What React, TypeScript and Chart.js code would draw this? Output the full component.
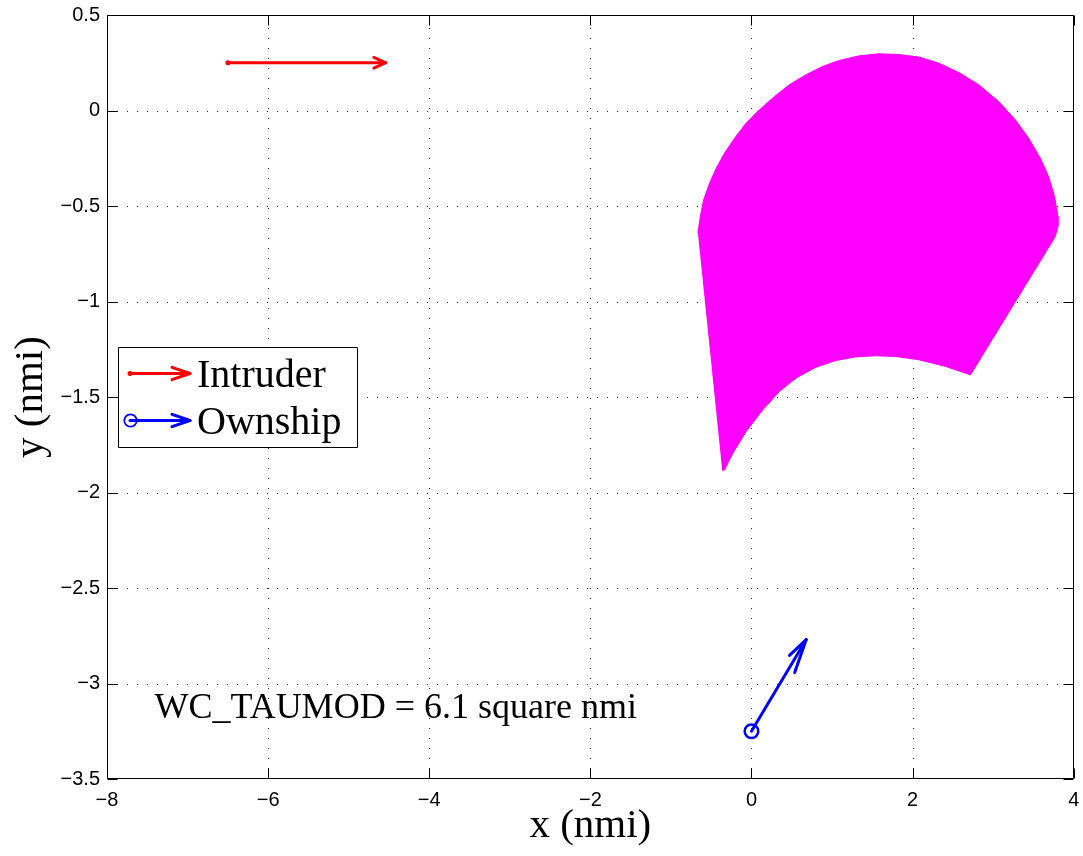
import React, { useEffect, useRef } from "react";
import { Chart, registerables } from "chart.js";

Chart.register(...registerables);

// ---- Axis ticks ----
const xTicks = [-8, -6, -4, -2, 0, 2, 4];
const yTicks = [-3.5, -3, -2.5, -2, -1.5, -1, -0.5, 0, 0.5];

// ---- Well-clear region boundary (WC_TAUMOD), traced around the polygon ----
const regionX = [
  -0.665, -0.635, -0.594, -0.52, -0.437, -0.334, -0.21, -0.066, 0.099, 0.285,
  0.47, 0.677, 0.883, 1.089, 1.337, 1.584, 1.832, 2.079, 2.327, 2.574,
  2.822, 3.069, 3.276, 3.441, 3.585, 3.688, 3.762, 3.804, 3.804, 3.771,
  2.719, 2.41, 2.079, 1.79, 1.543, 1.296, 1.048, 0.8, 0.553, 0.347,
  0.14, -0.066, -0.231, -0.334, -0.363,
];
const regionY = [
  -0.642, -0.555, -0.468, -0.38, -0.302, -0.223, -0.145, -0.066, 0.004, 0.073,
  0.135, 0.187, 0.231, 0.262, 0.286, 0.297, 0.293, 0.28, 0.248, 0.199,
  0.135, 0.047, -0.049, -0.145, -0.249, -0.346, -0.45, -0.555, -0.607, -0.66,
  -1.384, -1.34, -1.305, -1.288, -1.284, -1.29, -1.309, -1.344, -1.401, -1.471,
  -1.567, -1.681, -1.794, -1.881, -1.885,
];

// ---- Aircraft arrows (start, tip) ----
const intruderX = [-6.5, -4.54];
const intruderY = [0.25, 0.25];
const ownshipX = [0, 0.68];
const ownshipY = [-3.25, -2.77];

// ---- Texts ----
const legendLabels = ["Intruder", "Ownship"];
const annotationText = "WC_TAUMOD = 6.1 square nmi";
const annotationX = -7.41;
const annotationY = -3.181;
const xTitle = "x (nmi)";
const yTitle = "y (nmi)";

const RED = "#ff0000";
const BLUE = "#0000ff";
const MAGENTA = "#ff00ff";

const fmt = (v: number) => String(v).replace("-", "\u2212");

function drawHead(
  ctx: CanvasRenderingContext2D,
  x0: number,
  y0: number,
  x1: number,
  y1: number,
  heads: { len: number; ang: number }[]
) {
  const dx = x0 - x1;
  const dy = y0 - y1;
  const L = Math.hypot(dx, dy);
  const bx = dx / L;
  const by = dy / L;
  ctx.beginPath();
  for (const h of heads) {
    const t = (h.ang * Math.PI) / 180;
    const rx = bx * Math.cos(t) - by * Math.sin(t);
    const ry = bx * Math.sin(t) + by * Math.cos(t);
    ctx.moveTo(x1, y1);
    ctx.lineTo(x1 + rx * h.len, y1 + ry * h.len);
  }
  ctx.stroke();
}

const overlayPlugin = {
  id: "overlay",
  beforeDatasetsDraw(chart: any) {
    const { ctx, chartArea: a, scales } = chart;
    const xs = scales.x;
    const ys = scales.y;
    ctx.save();
    ctx.strokeStyle = "#222";
    ctx.lineWidth = 1;
    ctx.setLineDash([1, 9]);
    for (const v of xTicks) {
      const px = Math.round(xs.getPixelForValue(v)) + 0.5;
      if (px <= a.left + 1 || px >= a.right - 1) continue;
      ctx.beginPath();
      ctx.moveTo(px, a.bottom);
      ctx.lineTo(px, a.top);
      ctx.stroke();
    }
    for (const v of yTicks) {
      const py = Math.round(ys.getPixelForValue(v)) + 0.5;
      if (py <= a.top + 1 || py >= a.bottom - 1) continue;
      ctx.beginPath();
      ctx.moveTo(a.left, py);
      ctx.lineTo(a.right, py);
      ctx.stroke();
    }
    ctx.restore();
  },
  afterDatasetsDraw(chart: any) {
    const { ctx, chartArea: a, scales } = chart;
    const xs = scales.x;
    const ys = scales.y;
    ctx.save();
    ctx.lineCap = "round";
    ctx.lineJoin = "round";

    // arrowheads on plot arrows
    ctx.lineWidth = 3;
    ctx.strokeStyle = RED;
    drawHead(
      ctx,
      xs.getPixelForValue(intruderX[0]),
      ys.getPixelForValue(intruderY[0]),
      xs.getPixelForValue(intruderX[1]),
      ys.getPixelForValue(intruderY[1]),
      [
        { len: 13, ang: 24 },
        { len: 13, ang: -24 },
      ]
    );
    ctx.strokeStyle = BLUE;
    drawHead(
      ctx,
      xs.getPixelForValue(ownshipX[0]),
      ys.getPixelForValue(ownshipY[0]),
      xs.getPixelForValue(ownshipX[1]),
      ys.getPixelForValue(ownshipY[1]),
      [
        { len: 23, ang: 15.8 },
        { len: 35, ang: -11.6 },
      ]
    );

    // frame
    ctx.lineCap = "butt";
    ctx.setLineDash([]);
    ctx.strokeStyle = "#000";
    ctx.lineWidth = 1;
    const L = Math.round(a.left) + 0.5;
    const R = Math.round(a.right) - 0.5;
    const T = Math.round(a.top) + 0.5;
    const B = Math.round(a.bottom) - 0.5;
    ctx.strokeRect(L, T, R - L, B - T);
    // inward tick marks
    const tl = 10;
    ctx.beginPath();
    for (const v of xTicks) {
      const px = Math.round(xs.getPixelForValue(v)) + 0.5;
      ctx.moveTo(px, B);
      ctx.lineTo(px, B - tl);
      ctx.moveTo(px, T);
      ctx.lineTo(px, T + tl);
    }
    for (const v of yTicks) {
      const py = Math.round(ys.getPixelForValue(v)) + 0.5;
      ctx.moveTo(L, py);
      ctx.lineTo(L + tl, py);
      ctx.moveTo(R, py);
      ctx.lineTo(R - tl, py);
    }
    ctx.stroke();

    // annotation
    ctx.fillStyle = "#000";
    ctx.font = '36px "Liberation Serif"';
    ctx.textAlign = "left";
    ctx.textBaseline = "alphabetic";
    ctx.fillText(
      annotationText,
      xs.getPixelForValue(annotationX),
      ys.getPixelForValue(annotationY)
    );

    // legend
    const lx = 118.5;
    const ly = 347.5;
    const lw = 239;
    const lh = 100;
    ctx.fillStyle = "#fff";
    ctx.fillRect(lx, ly, lw, lh);
    ctx.strokeStyle = "#000";
    ctx.lineWidth = 1;
    ctx.strokeRect(lx, ly, lw, lh);

    const rows = [373.5, 420.5];
    const colors = [RED, BLUE];
    const ix0 = 130;
    const ix1 = 190;
    rows.forEach((ry, i) => {
      ctx.strokeStyle = colors[i];
      ctx.lineWidth = 3;
      ctx.lineCap = "round";
      ctx.beginPath();
      ctx.moveTo(ix0, ry);
      ctx.lineTo(ix1, ry);
      ctx.stroke();
      drawHead(ctx, ix0, ry, ix1, ry, [
        { len: 19, ang: 19 },
        { len: 19, ang: -19 },
      ]);
      if (i === 0) {
        ctx.fillStyle = RED;
        ctx.beginPath();
        ctx.arc(ix0, ry, 2.5, 0, Math.PI * 2);
        ctx.fill();
      } else {
        ctx.lineWidth = 1.8;
        ctx.beginPath();
        ctx.arc(ix0 + 0.5, ry, 6.2, 0, Math.PI * 2);
        ctx.stroke();
      }
    });
    ctx.fillStyle = "#000";
    ctx.font = '40px "Liberation Serif"';
    ctx.textAlign = "left";
    ctx.textBaseline = "alphabetic";
    ctx.fillText(legendLabels[0], 197, 387);
    ctx.fillText(legendLabels[1], 197, 434);

    ctx.restore();
  },
};

export default function App() {
  const canvasRef = useRef<HTMLCanvasElement | null>(null);

  useEffect(() => {
    document.body.style.margin = "0";
    const canvas = canvasRef.current;
    if (!canvas) return;

    const regionData = regionX.map((x, i) => ({ x, y: regionY[i] }));
    const intruderData = intruderX.map((x, i) => ({ x, y: intruderY[i] }));
    const ownshipData = ownshipX.map((x, i) => ({ x, y: ownshipY[i] }));

    const tickFont = { family: '"Liberation Sans", Arial, sans-serif', size: 20 };
    const titleFont = { family: '"Liberation Serif", "Times New Roman", serif', size: 41 };

    const zeroPad = (s: any) => {
      s.paddingLeft = 0;
      s.paddingRight = 0;
      s.paddingTop = 0;
      s.paddingBottom = 0;
    };

    const chart = new Chart(canvas, {
      type: "scatter",
      data: {
        datasets: [
          {
            data: regionData,
            showLine: true,
            fill: "shape",
            backgroundColor: MAGENTA,
            borderColor: MAGENTA,
            borderWidth: 1,
            pointRadius: 0,
            tension: 0,
          },
          {
            data: intruderData,
            showLine: true,
            borderColor: RED,
            borderWidth: 3,
            borderCapStyle: "round",
            pointRadius: [2.5, 0],
            pointBackgroundColor: RED,
            pointBorderColor: RED,
            pointBorderWidth: 0,
          },
          {
            data: ownshipData,
            showLine: true,
            borderColor: BLUE,
            borderWidth: 3,
            borderCapStyle: "round",
            pointRadius: [6.8, 0],
            pointBackgroundColor: "rgba(0,0,0,0)",
            pointBorderColor: BLUE,
            pointBorderWidth: 2.5,
          },
        ],
      } as any,
      options: {
        animation: false,
        responsive: false,
        events: [],
        layout: { padding: { left: 0, top: 15, right: 9, bottom: 0 } },
        plugins: {
          legend: { display: false },
          tooltip: { enabled: false },
        },
        scales: {
          x: {
            type: "linear",
            min: -8,
            max: 4,
            grid: { display: false, drawTicks: false },
            border: { display: false },
            afterBuildTicks: (s: any) => {
              s.ticks = xTicks.map((v) => ({ value: v }));
            },
            afterFit: (s: any) => {
              s.height = 77;
              zeroPad(s);
            },
            ticks: {
              color: "#000",
              font: tickFont,
              padding: 9,
              maxRotation: 0,
              autoSkip: false,
              callback: (v: any) => fmt(Number(v)),
            },
            title: {
              display: true,
              text: xTitle,
              color: "#000",
              font: titleFont,
              padding: { top: 0, bottom: 5 },
            },
          },
          y: {
            type: "linear",
            min: -3.5,
            max: 0.5,
            grid: { display: false, drawTicks: false },
            border: { display: false },
            afterBuildTicks: (s: any) => {
              s.ticks = yTicks.map((v) => ({ value: v }));
            },
            afterFit: (s: any) => {
              s.width = 107;
              zeroPad(s);
            },
            ticks: {
              color: "#000",
              font: tickFont,
              padding: 7,
              autoSkip: false,
              callback: (v: any) => fmt(Number(v)),
            },
            title: {
              display: true,
              text: yTitle,
              color: "#000",
              font: titleFont,
              padding: { top: 7, bottom: 0 },
            },
          },
        },
      },
      plugins: [overlayPlugin],
    } as any);

    return () => chart.destroy();
  }, []);

  return (
    <div style={{ width: 1083, height: 856, background: "#fff" }}>
      <canvas ref={canvasRef} width={1083} height={856} style={{ display: "block" }} />
    </div>
  );
}
